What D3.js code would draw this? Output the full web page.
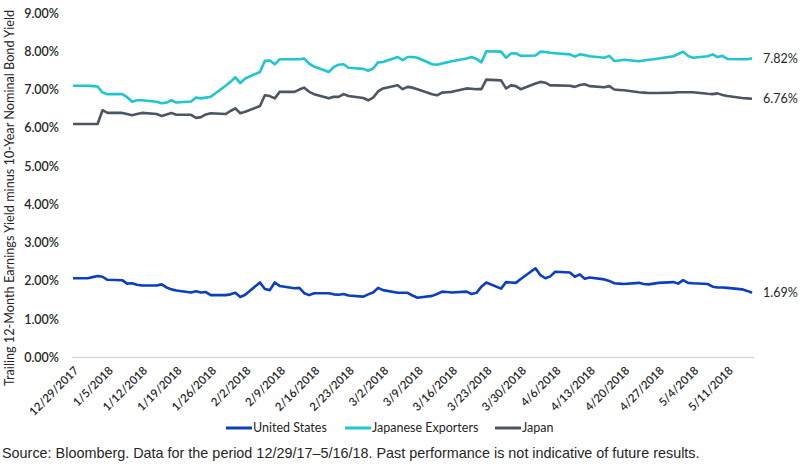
<!DOCTYPE html>
<html>
<head>
<meta charset="utf-8">
<script src="https://cdn.jsdelivr.net/npm/d3@7"></script>
<style>
  body { margin: 0; background: #fff; }
  svg text { font-family: Lato, "Open Sans", sans-serif; fill: #262626; }
</style>
</head>
<body>
<div id="chart"></div>
<script>
// weekday observations, 12/29/2017 - 5/16/2018
var dates = [
  '12/29/2017',
  '1/1/2018', '1/2/2018', '1/3/2018', '1/4/2018', '1/5/2018',
  '1/8/2018', '1/9/2018', '1/10/2018', '1/11/2018', '1/12/2018',
  '1/15/2018', '1/16/2018', '1/17/2018', '1/18/2018', '1/19/2018',
  '1/22/2018', '1/23/2018', '1/24/2018', '1/25/2018', '1/26/2018',
  '1/29/2018', '1/30/2018', '1/31/2018', '2/1/2018', '2/2/2018',
  '2/5/2018', '2/6/2018', '2/7/2018', '2/8/2018', '2/9/2018',
  '2/12/2018', '2/13/2018', '2/14/2018', '2/15/2018', '2/16/2018',
  '2/19/2018', '2/20/2018', '2/21/2018', '2/22/2018', '2/23/2018',
  '2/26/2018', '2/27/2018', '2/28/2018', '3/1/2018', '3/2/2018',
  '3/5/2018', '3/6/2018', '3/7/2018', '3/8/2018', '3/9/2018',
  '3/12/2018', '3/13/2018', '3/14/2018', '3/15/2018', '3/16/2018',
  '3/19/2018', '3/20/2018', '3/21/2018', '3/22/2018', '3/23/2018',
  '3/26/2018', '3/27/2018', '3/28/2018', '3/29/2018', '3/30/2018',
  '4/2/2018', '4/3/2018', '4/4/2018', '4/5/2018', '4/6/2018',
  '4/9/2018', '4/10/2018', '4/11/2018', '4/12/2018', '4/13/2018',
  '4/16/2018', '4/17/2018', '4/18/2018', '4/19/2018', '4/20/2018',
  '4/23/2018', '4/24/2018', '4/25/2018', '4/26/2018', '4/27/2018',
  '4/30/2018', '5/1/2018', '5/2/2018', '5/3/2018', '5/4/2018',
  '5/7/2018', '5/8/2018', '5/9/2018', '5/10/2018', '5/11/2018',
  '5/14/2018', '5/15/2018', '5/16/2018'
];

var unitedStates = [
  2.07,
  2.07, 2.10, 2.13, 2.11, 2.03,
  2.02, 1.93, 1.94, 1.90, 1.88,
  1.88, 1.91, 1.83, 1.78, 1.75,
  1.70, 1.73, 1.70, 1.71, 1.63,
  1.63, 1.65, 1.69, 1.58, 1.64,
  1.96, 1.79, 1.76, 1.96, 1.87,
  1.81, 1.82, 1.68, 1.63, 1.68,
  1.68, 1.65, 1.64, 1.66, 1.62,
  1.59, 1.65, 1.70, 1.82, 1.76,
  1.69, 1.69, 1.69, 1.62, 1.56,
  1.61, 1.66, 1.72, 1.71, 1.70,
  1.72, 1.66, 1.69, 1.85, 1.96,
  1.80, 1.97, 1.96, 1.95, 2.05,
  2.33, 2.15, 2.07, 2.12, 2.24,
  2.22, 2.11, 2.17, 2.06, 2.09,
  2.04, 2.00, 1.94, 1.93, 1.92,
  1.95, 1.92, 1.91, 1.93, 1.95,
  1.97, 1.93, 2.02, 1.95, 1.94,
  1.92, 1.85, 1.83, 1.83, 1.82,
  1.78, 1.74, 1.69
];

var japaneseExporters = [
  7.10,
  7.10, 7.09, 7.08, 6.92, 6.88,
  6.88, 6.80, 6.68, 6.72, 6.72,
  6.68, 6.64, 6.66, 6.72, 6.66,
  6.69, 6.79, 6.77, 6.79, 6.81,
  7.10, 7.20, 7.32, 7.17, 7.29,
  7.46, 7.75, 7.76, 7.66, 7.79,
  7.79, 7.79, 7.81, 7.68, 7.60,
  7.46, 7.59, 7.65, 7.66, 7.57,
  7.54, 7.49, 7.55, 7.71, 7.72,
  7.85, 7.77, 7.85, 7.85, 7.83,
  7.66, 7.65, 7.68, 7.71, 7.74,
  7.81, 7.85, 7.80, 7.71, 8.00,
  7.99, 7.83, 7.94, 7.95, 7.88,
  7.89, 7.99, 7.98, 7.96, 7.95,
  7.92, 7.86, 7.92, 7.90, 7.87,
  7.83, 7.88, 7.75, 7.76, 7.78,
  7.74, 7.76, 7.78, 7.79, 7.81,
  7.87, 7.93, 7.99, 7.88, 7.83,
  7.87, 7.92, 7.85, 7.88, 7.80,
  7.79, 7.79, 7.82
];

var japan = [
  6.10,
  6.10, 6.10, 6.10, 6.46, 6.39,
  6.39, 6.36, 6.33, 6.36, 6.39,
  6.36, 6.31, 6.35, 6.39, 6.34,
  6.34, 6.26, 6.28, 6.35, 6.38,
  6.36, 6.44, 6.51, 6.38, 6.42,
  6.57, 6.85, 6.83, 6.77, 6.94,
  6.94, 7.00, 7.05, 6.94, 6.88,
  6.77, 6.81, 6.81, 6.88, 6.83,
  6.78, 6.72, 6.79, 6.95, 7.03,
  7.11, 7.01, 7.07, 7.05, 7.01,
  6.88, 6.85, 6.92, 6.93, 6.94,
  7.03, 7.02, 7.01, 7.01, 7.26,
  7.24, 7.03, 7.11, 7.09, 7.01,
  7.16, 7.20, 7.18, 7.11, 7.11,
  7.10, 7.07, 7.12, 7.14, 7.09,
  7.06, 7.09, 7.00, 6.99, 6.98,
  6.93, 6.92, 6.91, 6.91, 6.91,
  6.92, 6.93, 6.93, 6.93, 6.93,
  6.89, 6.88, 6.90, 6.86, 6.83,
  6.78, 6.77, 6.76
];

var tickDates = [
  '12/29/2017', '1/5/2018', '1/12/2018', '1/19/2018', '1/26/2018',
  '2/2/2018', '2/9/2018', '2/16/2018', '2/23/2018', '3/2/2018',
  '3/9/2018', '3/16/2018', '3/23/2018', '3/30/2018', '4/6/2018',
  '4/13/2018', '4/20/2018', '4/27/2018', '5/4/2018', '5/11/2018'
];
var yTicks = [0, 1, 2, 3, 4, 5, 6, 7, 8, 9];

var seriesNames = ['United States', 'Japanese Exporters', 'Japan'];
var seriesValues = [unitedStates, japaneseExporters, japan];
var seriesColors = ['#0a3fbf', '#1fc5cf', '#4b5663'];

var parse = d3.timeParse('%m/%d/%Y');
var fmtTick = d3.timeFormat('%-m/%-d/%Y');

var width = 800, height = 472;
var margin = { top: 13, right: 48, bottom: 115, left: 73 };

var svg = d3.select('#chart')
  .append('svg')
  .attr('width', width)
  .attr('height', height);

var x = d3.scaleTime()
  .domain([parse(dates[0]), parse(dates[dates.length - 1])])
  .range([margin.left, width - margin.right]);

var y = d3.scaleLinear()
  .domain([0, 9])
  .range([height - margin.bottom + 0.5, margin.top]);

// baseline
svg.append('line')
  .attr('x1', margin.left - 1)
  .attr('x2', 754)
  .attr('y1', y(0))
  .attr('y2', y(0))
  .attr('stroke', '#d9d9d9')
  .attr('stroke-width', 1.5);

// y axis labels
var yAxis = d3.axisLeft(y)
  .tickValues(yTicks)
  .tickFormat(d => d3.format('.2f')(d) + '%')
  .tickSize(0)
  .tickPadding(14);

var gy = svg.append('g')
  .attr('transform', `translate(${margin.left},0)`)
  .call(yAxis);
gy.select('.domain').remove();
gy.selectAll('text')
  .style('font-size', '12.5px')
  .style('font-weight', '600')
  .attr('fill', '#262626');

// x axis labels
var xAxis = d3.axisBottom(x)
  .tickValues(tickDates.map(parse))
  .tickFormat(fmtTick)
  .tickSize(0)
  .tickPadding(0);

var gx = svg.append('g')
  .attr('transform', `translate(0,${y(0) + 8})`)
  .call(xAxis);
gx.select('.domain').remove();
gx.selectAll('text')
  .style('font-size', '11.5px')
  .style('font-weight', '600')
  .attr('fill', '#262626')
  .attr('text-anchor', 'end')
  .attr('dy', '0.7em')
  .attr('transform', 'rotate(-45)');

// y axis title
svg.append('text')
  .attr('transform', `translate(14,${198}) rotate(-90)`)
  .attr('text-anchor', 'middle')
  .style('font-size', '12.7px')
  .text('Trailing 12-Month Earnings Yield minus 10-Year Nominal Bond Yield');

// lines
var line = d3.line()
  .x((d, i) => x(parse(dates[i])))
  .y(d => y(d));

seriesValues.forEach((vals, i) => {
  svg.append('path')
    .datum(vals)
    .attr('fill', 'none')
    .attr('stroke', seriesColors[i])
    .attr('stroke-width', 2.6)
    .attr('stroke-linejoin', 'round')
    .attr('d', line);
});

// end labels
var endOrder = [1, 2, 0];
endOrder.forEach(i => {
  var vals = seriesValues[i];
  var last = vals[vals.length - 1];
  svg.append('text')
    .attr('x', x(parse(dates[dates.length - 1])) + 11)
    .attr('y', y(last))
    .attr('dy', '0.35em')
    .style('font-size', '12.5px')
    .text(d3.format('.2f')(last) + '%');
});

// legend
var legendX = [226, 345, 495];
seriesNames.forEach((name, i) => {
  var g = svg.append('g')
    .attr('transform', `translate(${legendX[i]},428)`);
  g.append('line')
    .attr('x1', 0)
    .attr('x2', 26)
    .attr('stroke', seriesColors[i])
    .attr('stroke-width', 3);
  g.append('text')
    .attr('x', 27)
    .attr('dy', '0.35em')
    .style('font-size', '12.5px')
    .text(name);
});

// source note
svg.append('text')
  .attr('x', 2)
  .attr('y', 458)
  .style('font-family', '"Liberation Sans", Arial, sans-serif')
  .style('font-size', '14.4px')
  .attr('fill', '#333')
  .text('Source: Bloomberg. Data for the period 12/29/17\u20135/16/18. Past performance is not indicative of future results.');
</script>
</body>
</html>
